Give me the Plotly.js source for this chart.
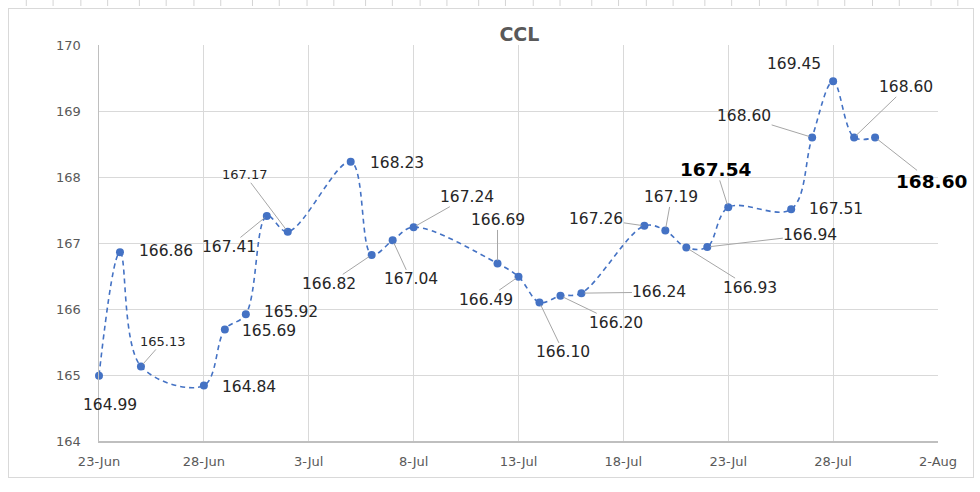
<!DOCTYPE html>
<html>
<head>
<meta charset="utf-8">
<script src="https://cdn.plot.ly/plotly-3.0.1.min.js"></script>
<style>
  html, body { margin: 0; padding: 0; background: #ffffff; }
  #wrap { position: relative; width: 980px; height: 492px; overflow: hidden; background: #fff; }
  #frame { position: absolute; left: 8px; top: 8px; width: 964px; height: 468px; border: 1px solid #d9d9d9; }
  .rows { position: absolute; top: 0; height: 492px; width: 6px;
          background: repeating-linear-gradient(to bottom, transparent 0px, transparent 21px, #d4d4d4 21px, #d4d4d4 22px);
          background-size: 100% 20.7px; }
  #rowsL { left: 2px; }
  #rowsR { left: 974px; }
  #cols { position: absolute; left: 0; top: 0; width: 980px; height: 6px;
          background: repeating-linear-gradient(to right, transparent 0px, transparent 26px, #d4d4d4 26px, #d4d4d4 27px);
          background-size: 113.1px 100%; background-position: 0 0; }
  #chart { position: absolute; left: 0; top: 0; width: 980px; height: 492px; }
</style>
</head>
<body>
<div id="wrap">
  <div id="cols"></div>
  <div id="rowsL" class="rows"></div>
  <div id="rowsR" class="rows"></div>
  <div id="frame"></div>
  <div id="chart"></div>
</div>
<script>
// ---- data ----
const dates = [
  "2021-06-23","2021-06-24","2021-06-25","2021-06-28","2021-06-29","2021-06-30",
  "2021-07-01","2021-07-02","2021-07-05","2021-07-06","2021-07-07","2021-07-08",
  "2021-07-12","2021-07-13","2021-07-14","2021-07-15","2021-07-16",
  "2021-07-19","2021-07-20","2021-07-21","2021-07-22","2021-07-23",
  "2021-07-26","2021-07-27","2021-07-28","2021-07-29","2021-07-30"
];
const ccl = [
  164.99,166.86,165.13,164.84,165.69,165.92,
  167.41,167.17,168.23,166.82,167.04,167.24,
  166.69,166.49,166.10,166.20,166.24,
  167.26,167.19,166.93,166.94,167.54,
  167.51,168.60,169.45,168.60,168.60
];
const chartTitle = "CCL";
const xRange = ["2021-06-23","2021-08-02"];
const yRange = [164, 170];

// ---- label placement (pixel offsets from the point, leader line flag, style) ----
const labelPlacement = [
  [11, 29, 1, "n"], [46, -1, 0, "n"], [22, -25, 1, "s"], [45, 1, 0, "n"], [44, 2, 0, "n"], [45, -2, 0, "n"],
  [-38, 31, 1, "n"], [-43, -57, 1, "s"], [46, 1, 0, "n"], [-43, 29, 1, "n"], [18, 39, 1, "n"], [53, -30, 1, "n"],
  [0, -43, 1, "n"], [-33, 23, 1, "n"], [24, 50, 1, "n"], [56, 27, 1, "n"], [78, -1, 1, "n"],
  [-48, -7, 1, "n"], [6, -33, 1, "n"], [64, 40, 1, "n"], [103, -12, 1, "n"], [-12, -38, 1, "b"],
  [45, 0, 0, "n"], [-68, -21, 1, "n"], [-39, -17, 0, "n"], [52, -50, 1, "n"], [56, 44, 1, "b"]
];

const annotations = dates.map((d, i) => {
  const p = labelPlacement[i];
  const style = p[3];
  let font = {family: "DejaVu Sans, Verdana, sans-serif", size: 15.5, color: "#262626"};
  if (style === "s") font = {family: "DejaVu Sans, Verdana, sans-serif", size: 13, color: "#262626"};
  if (style === "b") font = {family: "DejaVu Sans, Verdana, sans-serif", size: 18.5, color: "#000000", weight: "bold"};
  return {
    x: d, y: ccl[i], xref: "x", yref: "y",
    text: ccl[i].toFixed(2),
    showarrow: true, arrowhead: 0, arrowwidth: 1,
    arrowcolor: p[2] ? "#a6a6a6" : "rgba(0,0,0,0)",
    standoff: 3,
    ax: p[0], ay: p[1],
    borderpad: 0,
    font: font
  };
});

const trace = {
  x: dates, y: ccl,
  type: "scatter", mode: "lines+markers",
  line: {shape: "spline", smoothing: 1, color: "#4472C4", width: 1.6, dash: "5px,4px"},
  marker: {size: 8, color: "#4472C4"},
  cliponaxis: false,
  hoverinfo: "x+y"
};

const layout = {
  width: 980, height: 492,
  margin: {l: 99, r: 42, t: 45, b: 51},
  paper_bgcolor: "rgba(0,0,0,0)",
  plot_bgcolor: "rgba(0,0,0,0)",
  showlegend: false,
  title: {
    text: chartTitle,
    x: 0.53, xanchor: "center", y: 0.93, yanchor: "middle",
    font: {family: "DejaVu Sans, sans-serif", size: 19, color: "#595959", weight: "bold"}
  },
  xaxis: {
    type: "date", range: xRange,
    tick0: "2021-06-23", dtick: 5 * 24 * 3600 * 1000,
    tickformat: "%-d-%b",
    showgrid: true, gridcolor: "#d9d9d9", gridwidth: 1,
    showline: true, linecolor: "#bfbfbf", linewidth: 1.5,
    ticks: "", ticklen: 0, ticklabelstandoff: 8,
    tickfont: {family: "DejaVu Sans, sans-serif", size: 13, color: "#595959"},
    zeroline: false, fixedrange: true
  },
  yaxis: {
    range: yRange, dtick: 1, tick0: 164,
    showgrid: true, gridcolor: "#d9d9d9", gridwidth: 1,
    showline: true, linecolor: "#bfbfbf", linewidth: 1.5,
    ticks: "", ticklabelstandoff: 14,
    tickfont: {family: "DejaVu Sans, sans-serif", size: 13, color: "#595959"},
    zeroline: false, fixedrange: true
  },
  annotations: annotations
};

Plotly.newPlot("chart", [trace], layout, {displayModeBar: false, staticPlot: true});
</script>
</body>
</html>
